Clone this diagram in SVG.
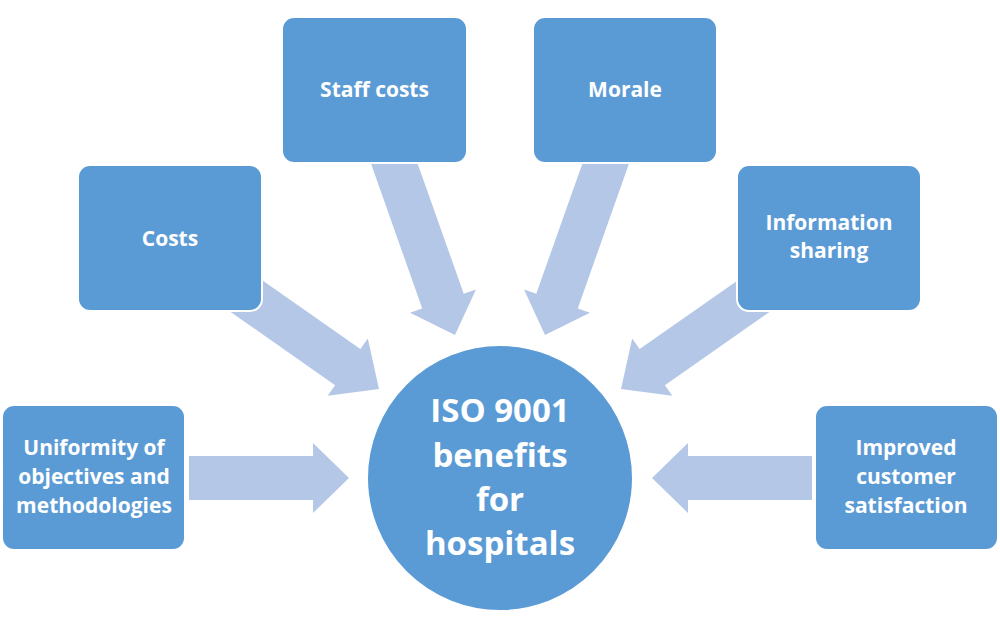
<svg xmlns="http://www.w3.org/2000/svg" width="1000" height="628" viewBox="0 0 1000 628">
<defs>
<style>
.box{fill:#5B9BD5;stroke:#FFFFFF;stroke-width:2}
.arr{fill:#B4C7E7}
.t{font-family:"Open Sans","Liberation Sans",sans-serif;font-weight:bold;fill:#FFFFFF;text-anchor:middle;font-size:21px}
.tc{font-size:33px}
</style>
<polygon id="arrow160" class="arr" points="-160,-22 -36,-22 -36,-35 0,0 -36,35 -36,22 -160,22"/>
<polygon id="arrow200" class="arr" points="-200,-22 -36,-22 -36,-35 0,0 -36,35 -36,22 -200,22"/>
</defs>
<rect width="1000" height="628" fill="#FFFFFF"/>
<g id="connectors">
<use href="#arrow160" transform="translate(349,478)"/>
<use href="#arrow160" transform="translate(652,478) rotate(180)"/>
<use href="#arrow160" transform="translate(379,389) rotate(35) scale(1.06,1)"/>
<use href="#arrow160" transform="translate(621,389) rotate(145) scale(1.06,1)"/>
<use href="#arrow200" transform="translate(455,335) rotate(70.5)"/>
<use href="#arrow200" transform="translate(545,335) rotate(109.5)"/>
</g>
<g id="node-costs">
<rect class="box" x="78" y="165" width="184" height="146" rx="12"/>
<text class="t" x="170" y="246">Costs</text>
</g>
<g id="node-staff-costs">
<rect class="box" x="282" y="17" width="185" height="146" rx="12"/>
<text class="t" x="374.5" y="97">Staff costs</text>
</g>
<g id="node-morale">
<rect class="box" x="533" y="17" width="184" height="146" rx="12"/>
<text class="t" x="625" y="97">Morale</text>
</g>
<g id="node-information-sharing">
<rect class="box" x="737" y="165" width="184" height="146" rx="12"/>
<text class="t" x="829" y="230">Information</text>
<text class="t" x="829" y="258">sharing</text>
</g>
<g id="node-uniformity">
<rect class="box" x="2" y="405" width="183" height="145" rx="12"/>
<text class="t" x="94" y="455">Uniformity of</text>
<text class="t" x="94" y="484">objectives and</text>
<text class="t" x="94" y="513">methodologies</text>
</g>
<g id="node-improved">
<rect class="box" x="815" y="405" width="183" height="145" rx="12"/>
<text class="t" x="906" y="455">Improved</text>
<text class="t" x="906" y="484">customer</text>
<text class="t" x="906" y="513">satisfaction</text>
</g>
<g id="node-center">
<circle class="box" cx="500" cy="478" r="133"/>
<text class="t tc" x="500" y="422">ISO 9001</text>
<text class="t tc" x="500" y="467">benefits</text>
<text class="t tc" x="500" y="511">for</text>
<text class="t tc" x="500" y="555">hospitals</text>
</g>
</svg>
